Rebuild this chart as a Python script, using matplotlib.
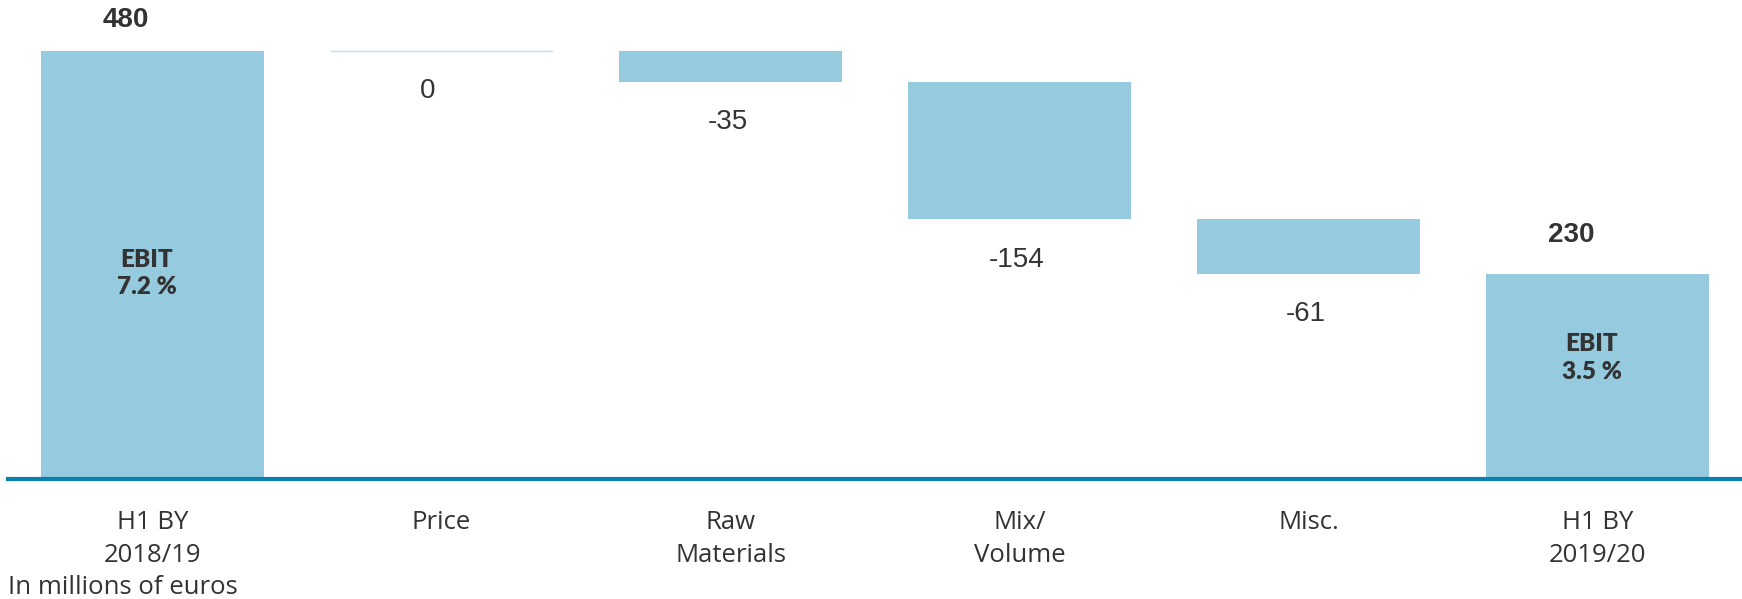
import matplotlib.pyplot as plt
import numpy as np

categories = ["H1 BY\n2018/19", "Price", "Raw\nMaterials", "Mix/\nVolume", "Misc.", "H1 BY\n2019/20"]
values = [480, 0, -35, -154, -61, 230]
is_total = [True, False, False, False, False, True]
ebit_labels = ["EBIT\n7.2 %", None, None, None, None, "EBIT\n3.5 %"]
unit_note = "In millions of euros"

bar_color = "#95cadf"
line_color = "#0a80ad"
text_color = "#333333"

fig = plt.figure(figsize=(17.42, 5.99), dpi=100)
ax = fig.add_axes([8 / 1742, 120 / 599, 1734 / 1742, 479 / 599])

x = np.arange(len(categories))
running = 0
for i, (v, tot) in enumerate(zip(values, is_total)):
    if tot:
        running = v
        ax.bar(x[i], v, width=0.77, color=bar_color)
        ax.annotate(f"{v}", (x[i], v), xytext=(-19, 22 if i == 0 else 28), textcoords="offset points",
                    ha="center", va="center", fontsize=20, fontweight="bold",
                    color=text_color, family="Liberation Sans")
        ax.text(x[i] - 0.02, v * (0.48 if i == 0 else 0.59), ebit_labels[i], ha="center", va="center",
                fontsize=17.5, fontweight="heavy", color=text_color, family="Lato",
                linespacing=1.3)
    else:
        new = running + v
        if v == 0:
            ax.hlines(running, x[i] - 0.385, x[i] + 0.385, color="#bfe0ec", lw=1)
        else:
            ax.bar(x[i], -v, bottom=new, width=0.77, color=bar_color)
        ax.annotate(f"{v}", (x[i], min(running, new)), xytext=(-10 if v == 0 else -2, -29),
                    textcoords="offset points", ha="center", va="center", fontsize=20,
                    color=text_color, family="Liberation Sans")
        running = new

ax.axhline(0, color=line_color, lw=3, clip_on=False, zorder=5)
ax.set_xlim(-0.5, 5.5)
ax.set_ylim(0, 537)
ax.set_xticks(x)
ax.set_xticklabels(categories, fontsize=18.5, color=text_color, family="Open Sans", linespacing=1.45)
ax.tick_params(axis="x", length=0, pad=22)
ax.set_yticks([])
for s in ax.spines.values():
    s.set_visible(False)

fig.text(123 / 1742, 1 - 587 / 599, unit_note, ha="center", va="center",
         fontsize=18.5, color=text_color, family="Open Sans")

fig.savefig("out.png", dpi=100)
